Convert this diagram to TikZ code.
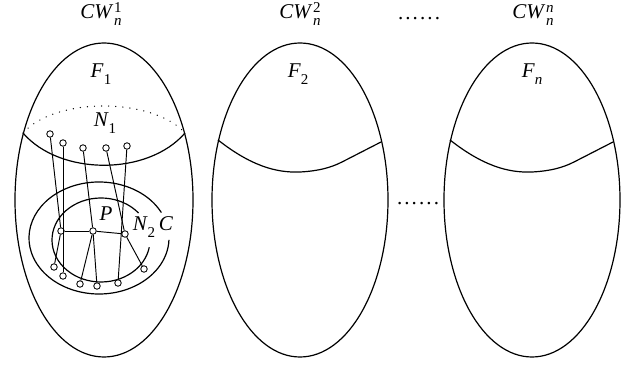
\documentclass[tikz,border=0pt]{standalone}
\usepackage{fontspec}
\setmainfont{Liberation Serif}
\usepackage{tikz}
% index helpers: small script raised/lowered next to a letter
\newcommand{\smallidx}[1]{{\fontsize{15}{15}\selectfont #1}}
\newcommand{\lowidx}[1]{\raisebox{-6.5pt}{\smallidx{#1}}}
\newcommand{\lowhigh}[2]{\raisebox{-7pt}{\fontsize{15}{15}\selectfont
  \begin{tabular}[b]{@{\kern0.5pt}l@{}}#2\\[-1.5pt]#1\end{tabular}}}
\newcommand{\dotrow}{.\kern2.1pt.\kern2.1pt.\kern2.1pt.\kern2.1pt.\kern2.1pt.}
\begin{document}
\begin{tikzpicture}[x=1pt,y=-1pt,
  outline/.style={line width=1.2pt},
  link/.style={line width=0.95pt},
  vtx/.style={circle,draw,fill=white,line width=0.85pt,inner sep=0pt,minimum size=6.5pt},
  lbl/.style={inner sep=0pt,font=\fontsize{21}{24}\selectfont},
  dotline/.style={line width=1.3pt,dash pattern=on 0.1pt off 7pt,line cap=round}]
\useasboundingbox (0,0) rectangle (633,366);

% --- titles ---
\node[lbl,anchor=base] (t1) at (101,19) {\textit{CW}\lowhigh{\textit{n}}{1}};
\node[lbl,anchor=base] (t2) at (300,19) {\textit{CW}\lowhigh{\textit{n}}{2}};
\node[lbl,anchor=base] (tdots) at (419,20) {\dotrow};
\node[lbl,anchor=base] (t3) at (533,19) {\textit{CW}\lowhigh{\textit{n}}{\textit{n}}};

% --- the three ovals ---
\draw[outline] (104,200) ellipse [x radius=89, y radius=157];
\draw[outline] (300,200) ellipse [x radius=88, y radius=157];
\draw[outline] (532,200) ellipse [x radius=88, y radius=157];

% --- dividing curves ---
\draw[outline] (23,133) .. controls (60,176) and (148,176) .. (185,133);
\draw[dotline] (23,133) .. controls (55,97) and (152,97) .. (185,133);
\draw[outline] (218,140) .. controls (250,165) and (275,173) .. (300,172)
   .. controls (318,171) and (330,168) .. (342,162) -- (381,142);
\draw[outline] (450,140) .. controls (482,165) and (507,173) .. (532,172)
   .. controls (550,171) and (562,168) .. (574,162) -- (613,142);

\node[lbl,anchor=base] (f1) at (101,78) {\textit{F}\lowidx{1}};
\node[lbl,anchor=base] (f2) at (298,78) {\textit{F}\lowidx{2}};
\node[lbl,anchor=base] (fn) at (532,78) {\textit{F}\lowidx{\textit{n}}};
\node[lbl,anchor=base] (n1) at (105,127) {\textit{N}\lowidx{1}};
\node[lbl,anchor=base] (mdots) at (418,205) {\dotrow};

% --- open curves C and N2 ---
\draw[outline] (99,238) ++(-27:70 and 56) arc [start angle=-27, end angle=-358, x radius=70, y radius=56];
\draw[outline] (101,240) ++(-40:49 and 42) arc [start angle=-40, end angle=-350, x radius=49, y radius=42];
\node[lbl,anchor=base] (pl) at (106,221) {\textit{P}};
\node[lbl,anchor=base] (n2) at (144,231) {\textit{N}\lowidx{2}};
\node[lbl,anchor=base] (cl) at (166,231) {\textit{C}};

% --- vertices ---
\node[vtx] (a1) at (50,134) {};
\node[vtx] (a2) at (63,143) {};
\node[vtx] (a3) at (83,148) {};
\node[vtx] (a4) at (106,148) {};
\node[vtx] (a5) at (127,146) {};
\node[vtx] (m1) at (61,231) {};
\node[vtx] (m2) at (93,231) {};
\node[vtx] (m3) at (125,234) {};
\node[vtx] (b1) at (54,267) {};
\node[vtx] (b2) at (63,276) {};
\node[vtx] (b3) at (80,284) {};
\node[vtx] (b4) at (97,286) {};
\node[vtx] (b5) at (118,283) {};
\node[vtx] (b6) at (144,269) {};

% --- edges ---
\draw[link] (a1) -- (m1);
\draw[link] (m1) -- (b1);
\draw[link] (a2) -- (b2);
\draw[link] (a3) -- (m2);
\draw[link] (m2) -- (b3);
\draw[link] (m2) -- (b4);
\draw[link] (a4) -- (m3);
\draw[link] (m3) -- (b6);
\draw[link] (a5) -- (b5);
\draw[link] (m1) -- (m2);
\draw[link] (m2) -- (m3);
\end{tikzpicture}
\end{document}
